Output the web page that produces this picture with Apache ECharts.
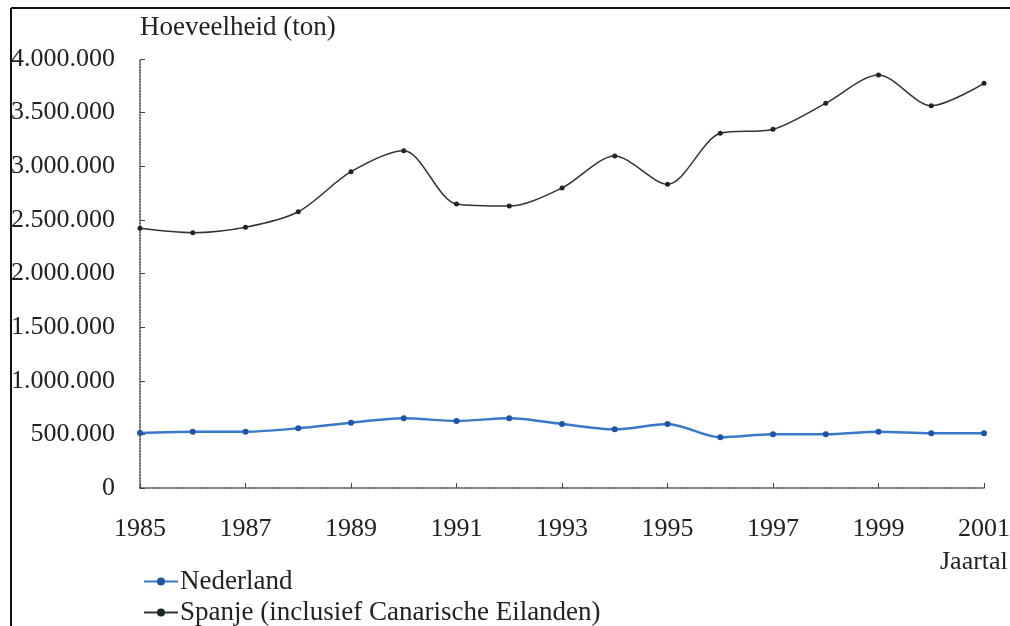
<!DOCTYPE html>
<html>
<head>
<meta charset="utf-8">
<script src="https://cdn.jsdelivr.net/npm/echarts@6/dist/echarts.min.js"></script>
<style>
  html, body { margin: 0; padding: 0; background: #fff; }
  #chart { width: 1010px; height: 626px; }
</style>
</head>
<body>
<div id="chart"></div>
<script>
// years on the x axis
const years = ['1985', '1986', '1987', '1988', '1989', '1990', '1991', '1992', '1993',
    '1994', '1995', '1996', '1997', '1998', '1999', '2000', '2001'];

// Hoeveelheid (ton)
const nederland = [513000, 525000, 525000, 557000, 609000, 650000, 625000, 650000, 597000,
    547000, 597000, 473000, 501000, 501000, 525000, 510000, 510000];
const spanje = [2421000, 2380000, 2431000, 2576000, 2949000, 3145000, 2648000, 2629000, 2797000,
    3096000, 2832000, 3307000, 3345000, 3587000, 3851000, 3565000, 3773000];

const seriesNames = ['Nederland', 'Spanje (inclusief Canarische Eilanden)'];

const font = '"Liberation Serif", "DejaVu Serif", serif';

function dotted(v) {
    return String(v).replace(/\B(?=(\d{3})+(?!\d))/g, '.');
}

const chart = echarts.init(document.getElementById('chart'));
const options = {
    backgroundColor: '#fff',
    animation: false,
    textStyle: { fontFamily: font, color: '#222' },
    grid: { left: 140, right: 26, top: 59, bottom: 138, outerBoundsMode: 'none' },
    legend: {
        orient: 'vertical',
        left: 138,
        top: 563,
        height: 120,
        itemGap: 4,
        itemWidth: 34,
        itemHeight: 10,
        textStyle: { fontFamily: font, fontSize: 27, color: '#222', padding: [0, 0, 0, -3] },
        data: seriesNames
    },
    xAxis: {
        type: 'category',
        data: years,
        boundaryGap: false,
        axisLine: { lineStyle: { color: '#444', width: 1.5, type: 'dotted' } },
        axisTick: { inside: true, length: 5, interval: 1, lineStyle: { color: '#444' } },
        axisLabel: { interval: 1, margin: 28, fontSize: 26, color: '#222', fontFamily: font },
        splitLine: { show: false }
    },
    yAxis: {
        type: 'value',
        min: 0,
        max: 4000000,
        interval: 500000,
        name: 'Hoeveelheid (ton)',
        nameLocation: 'end',
        nameGap: 31,
        nameTextStyle: { align: 'left', verticalAlign: 'middle', fontSize: 27, color: '#222', fontFamily: font },
        axisLine: { show: true, lineStyle: { color: '#444', width: 1.5, type: 'dotted' } },
        axisTick: { show: true, inside: true, length: 5, lineStyle: { color: '#444' } },
        axisLabel: { margin: 25, fontSize: 26, color: '#222', fontFamily: font, formatter: dotted },
        splitLine: { show: false }
    },
    graphic: [
        {
            type: 'text',
            left: 940,
            top: 549,
            style: { text: 'Jaartal', font: '26px ' + font, fill: '#222' }
        },
        {
            type: 'line',
            shape: { x1: 11, y1: 8, x2: 1010, y2: 8 },
            style: { stroke: '#111', lineWidth: 2 }
        },
        {
            type: 'line',
            shape: { x1: 11, y1: 8, x2: 11, y2: 626 },
            style: { stroke: '#111', lineWidth: 2 }
        }
    ],
    series: [
        {
            name: seriesNames[0],
            type: 'line',
            data: nederland,
            smooth: 0.3,
            symbol: 'circle',
            symbolSize: 6,
            lineStyle: { color: '#3a78c8', width: 2.5 },
            itemStyle: { color: '#1f55a8' }
        },
        {
            name: seriesNames[1],
            type: 'line',
            data: spanje,
            smooth: 0.3,
            symbol: 'circle',
            symbolSize: 5,
            lineStyle: { color: '#333', width: 1.5 },
            itemStyle: { color: '#1a2a1a' }
        }
    ]
};

chart.setOption(options);
</script>
</body>
</html>
